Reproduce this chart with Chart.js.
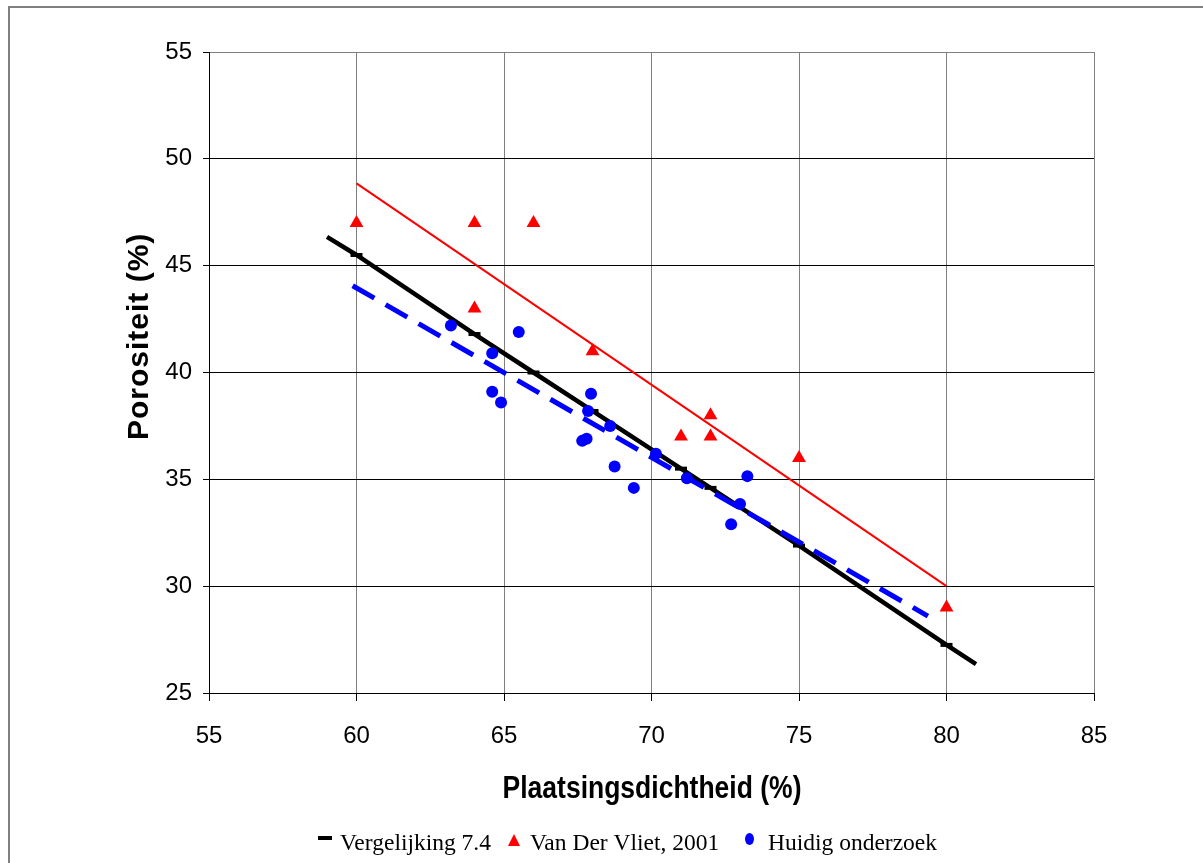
<!DOCTYPE html>
<html>
<head>
<meta charset="utf-8">
<script src="https://cdn.jsdelivr.net/npm/chart.js@4.4.1/dist/chart.umd.min.js"></script>
<style>
    html, body { margin: 0; padding: 0; background: #fff; }
</style>
</head>
<body>
<canvas id="chart" width="1203" height="863"></canvas>
<script>
// Vergelijking 7.4 (line with dash markers, ends have no marker)
const eqX = [59, 60, 64, 66, 68, 71, 72, 75, 80, 81];
const eqY = [46.35, 45.5, 41.8, 40.0, 38.2, 35.5, 34.6, 31.9, 27.25, 26.35];

// Van Der Vliet, 2001
const vlietX = [60, 64, 66, 64, 68, 71, 72, 72, 75, 80];
const vlietY = [47, 47, 47, 43, 41, 37, 38, 37, 36, 29];
const vlietTrendX = [60, 80];
const vlietTrendY = [48.85, 30.0];

// Huidig onderzoek
const huidigX = [63.2, 64.6, 64.6, 64.9, 65.5, 67.65, 67.8, 67.85, 67.95, 68.6, 68.75, 69.4, 70.15, 71.2, 72.7, 73.0, 73.25];
const huidigY = [42.2, 40.9, 39.1, 38.6, 41.9, 36.8, 36.9, 38.2, 39.0, 37.5, 35.6, 34.6, 36.2, 35.05, 32.9, 33.85, 35.15];
const huidigTrendX = [59.87, 79.37];
const huidigTrendY = [44.06, 28.6];

const xTicks = [55, 60, 65, 70, 75, 80, 85];
const yTicks = [25, 30, 35, 40, 45, 50, 55];

const legendItems = ["Vergelijking 7.4", "Van Der Vliet, 2001", "Huidig onderzoek"];
const xTitle = "Plaatsingsdichtheid (%)";
const yTitle = "Porositeit (%)";

const pts = (xs, ys) => xs.map((x, i) => ({ x: x, y: ys[i] }));

const SANS = "'Liberation Sans', Arial, sans-serif";
const SERIF = "'Liberation Serif', 'Times New Roman', serif";

const decor = {
    id: "decor",
    beforeDraw(chart) {
        const ctx = chart.ctx;
        ctx.save();
        ctx.fillStyle = "#fff";
        ctx.fillRect(0, 0, chart.width, chart.height);
        ctx.strokeStyle = "#808080";
        ctx.lineWidth = 2;
        ctx.strokeRect(9, 7, 1220, 900);
        ctx.restore();
    },
    afterDraw(chart) {
        const ctx = chart.ctx;
        ctx.save();
        ctx.fillStyle = "#000";

        // y title, rotated, slightly spaced
        ctx.save();
        ctx.translate(148, 440);
        ctx.rotate(-Math.PI / 2);
        ctx.font = "bold 30px " + SANS;
        ctx.letterSpacing = "1px";
        ctx.textAlign = "left";
        ctx.textBaseline = "alphabetic";
        ctx.fillText(yTitle, 0, 0);
        ctx.restore();

        // x title
        ctx.save();
        ctx.translate(652, 798);
        ctx.scale(1, 1.15);
        ctx.font = "bold 26.5px " + SANS;
        ctx.textAlign = "center";
        ctx.textBaseline = "alphabetic";
        ctx.fillText(xTitle, 0, 0);
        ctx.restore();

        // legend
        ctx.font = "23.5px " + SERIF;
        ctx.textAlign = "left";
        ctx.textBaseline = "alphabetic";
        ctx.fillRect(318, 836, 14, 4);
        ctx.fillText(legendItems[0], 340, 850);

        ctx.fillStyle = "#ff0000";
        ctx.beginPath();
        ctx.moveTo(514, 834);
        ctx.lineTo(520, 846);
        ctx.lineTo(508, 846);
        ctx.closePath();
        ctx.fill();
        ctx.fillStyle = "#000";
        ctx.fillText(legendItems[1], 530, 850);

        ctx.fillStyle = "#0000ff";
        ctx.beginPath();
        ctx.ellipse(749.5, 839, 4.5, 6, 0, 0, Math.PI * 2);
        ctx.fill();
        ctx.fillStyle = "#000";
        ctx.fillText(legendItems[2], 768, 850);

        ctx.restore();
    }
};

new Chart(document.getElementById("chart").getContext("2d"), {
    type: "scatter",
    data: {
        datasets: [
            {
                label: legendItems[2],
                data: pts(huidigX, huidigY),
                backgroundColor: "#0000ff",
                borderColor: "#0000ff",
                pointStyle: "circle",
                pointRadius: 6,
                pointBorderWidth: 0,
            },
            {
                label: legendItems[1],
                data: pts(vlietX, vlietY),
                backgroundColor: "#ff0000",
                borderColor: "#ff0000",
                pointStyle: "triangle",
                pointRadius: 8,
                pointBorderWidth: 0,
            },
            {
                label: "trend huidig",
                data: pts(huidigTrendX, huidigTrendY),
                showLine: true,
                borderColor: "#0000ff",
                borderWidth: 5,
                borderDash: [25, 13],
                pointRadius: 0,
            },
            {
                label: legendItems[0],
                data: pts(eqX, eqY),
                showLine: true,
                borderColor: "#000",
                backgroundColor: "#000",
                borderWidth: 4.5,
                pointStyle: "line",
                pointRadius: eqX.map((x, i) => (i === 0 || i === eqX.length - 1) ? 0 : 6),
                pointBorderWidth: 4,
                pointBorderColor: "#000",
            },
            {
                label: "trend vliet",
                data: pts(vlietTrendX, vlietTrendY),
                showLine: true,
                borderColor: "#ff0000",
                borderWidth: 2,
                pointRadius: 0,
            },
        ]
    },
    options: {
        responsive: false,
        animation: false,
        devicePixelRatio: 1,
        layout: { padding: { top: 52, right: 109, left: 0, bottom: 0 } },
        plugins: {
            legend: { display: false },
            tooltip: { enabled: false },
        },
        scales: {
            x: {
                type: "linear",
                min: 55,
                max: 85,
                afterBuildTicks: s => { s.ticks = xTicks.map(v => ({ value: v })); },
                afterFit: s => { s.height = 170; },
                grid: {
                    color: "#808080",
                    tickColor: "#000",
                    tickLength: 8,
                    lineWidth: 1,
                },
                border: { display: true, color: "#000", width: 1 },
                ticks: {
                    color: "#000",
                    padding: 21,
                    maxRotation: 0,
                    font: { family: SANS, size: 24 },
                },
            },
            y: {
                type: "linear",
                min: 25,
                max: 55,
                afterBuildTicks: s => { s.ticks = yTicks.map(v => ({ value: v })); },
                afterFit: s => { s.width = 209; },
                grid: {
                    color: c => (c.tick && c.tick.value === 55) ? "#808080" : "#000",
                    tickColor: "#000",
                    tickLength: 6,
                    lineWidth: 1,
                },
                border: { display: true, color: "#000", width: 1 },
                ticks: {
                    color: "#000",
                    padding: 11,
                    font: { family: SANS, size: 24 },
                },
            },
        },
    },
    plugins: [decor],
});
</script>
</body>
</html>
